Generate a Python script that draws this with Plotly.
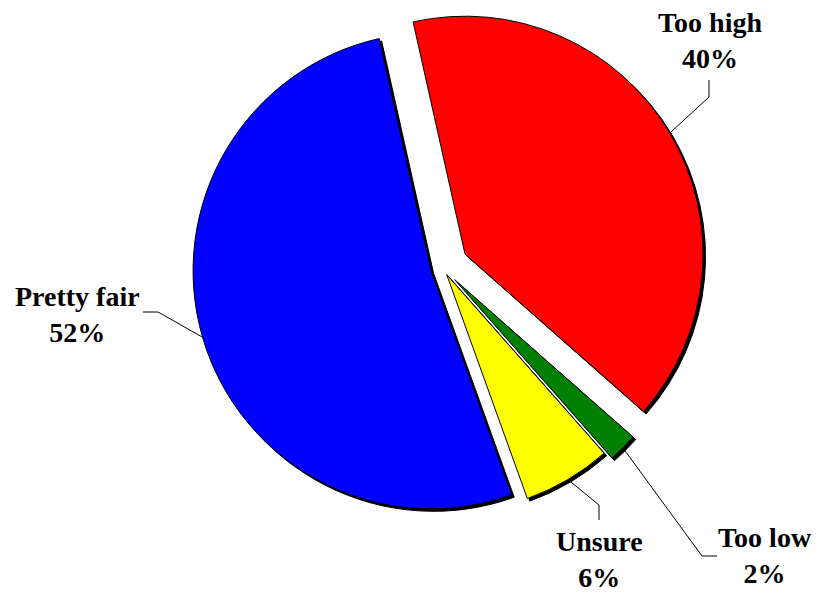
"""
Opinion pie — exploded slices with outside labels and leader lines.
Each slice is its own pie trace (others transparent), so its "pull" is
done by moving that trace's domain rather than by the pie's pull option.
"""

import math

import plotly.graph_objects as go

# page body has an 8px margin; figure is sized to fit the 821x595 window
PAGE_PAD = 8
W, H = 821 - PAGE_PAD, 595 - PAGE_PAD

labels = ["Too high", "Too low", "Unsure", "Pretty fair"]
values = [40, 2, 6, 52]
colors = ["#FF0000", "#008000", "#FFFF00", "#0000FF"]
pulls = [0.11, 0.072, 0.035, 0.05]
rotation = -12.6

# pie centre and radius in window pixels
CX, CY, R = 442.5, 267.5, 238.0
CLEAR = "rgba(0,0,0,0)"

# label placement (window pixels): text centre, elbow point, line end near text
label_pos = {
    "Too high":    dict(tx=710, ty=40, elbow=(709, 97), end=(709, 80)),
    "Too low":     dict(tx=765, ty=555, elbow=(702, 556), end=(717, 556)),
    "Unsure":      dict(tx=599, ty=559, elbow=(599, 505), end=(599, 520)),
    "Pretty fair": dict(tx=77, ty=314, elbow=(158, 312), end=(143, 312)),
}


def px(x, y):
    return (x - PAGE_PAD) / W, 1 - (y - PAGE_PAD) / H


def dom(cx, cy):
    x0, y1 = px(cx - R, cy - R)
    x1, y0 = px(cx + R, cy + R)
    return dict(x=[x0, x1], y=[y0, y1])


def slice_trace(i, cx, cy, fill, line_col):
    return go.Pie(
        labels=labels, values=values, sort=False, direction="clockwise",
        rotation=rotation, textinfo="none", showlegend=False,
        marker=dict(
            colors=[fill if j == i else CLEAR for j in range(len(values))],
            line=dict(color=line_col,
                      width=[1 if j == i else 0 for j in range(len(values))]),
        ),
        domain=dom(cx, cy),
    )


fig = go.Figure()

total = sum(values)
centres, mids = [], []
cum = 0
for v, p in zip(values, pulls):
    mid = math.radians(rotation + 360 * (cum + v / 2) / total)
    cum += v
    sx, sy = math.sin(mid), -math.cos(mid)
    centres.append((CX + p * R * sx, CY + p * R * sy))
    mids.append((sx, sy))

# drop shadows first, then the slices
for i, (cx, cy) in enumerate(centres):
    fig.add_trace(slice_trace(i, cx + 2.5, cy + 2.5, "#000000", "#000000"))
for i, (cx, cy) in enumerate(centres):
    fig.add_trace(slice_trace(i, cx, cy, colors[i], "#000000"))

# leader lines anchored on each slice's mid-angle arc point
for lab, v, (cx, cy), (sx, sy) in zip(labels, values, centres, mids):
    ax, ay = cx + R * sx, cy + R * sy
    lp = label_pos[lab]
    (ex, ey), (nx, ny) = lp["elbow"], lp["end"]
    pts = [px(ax, ay), px(ex, ey), px(nx, ny)]
    path = "M {} {} L {} {} L {} {}".format(*[c for pt in pts for c in pt])
    fig.add_shape(type="path", path=path, xref="paper", yref="paper",
                  line=dict(color="#000000", width=1))
    tx, ty = px(lp["tx"], lp["ty"])
    fig.add_annotation(
        x=tx, y=ty, xref="paper", yref="paper", showarrow=False,
        xanchor="center", yanchor="middle",
        text=f"<b>{lab}<br>{v}%</b>", align="center",
        font=dict(family="Liberation Serif", size=28, color="#000000"),
    )

fig.update_layout(
    width=W, height=H,
    margin=dict(l=0, r=0, t=0, b=0),
    paper_bgcolor="#FFFFFF",
    plot_bgcolor="#FFFFFF",
)

fig.write_html("out.html")
